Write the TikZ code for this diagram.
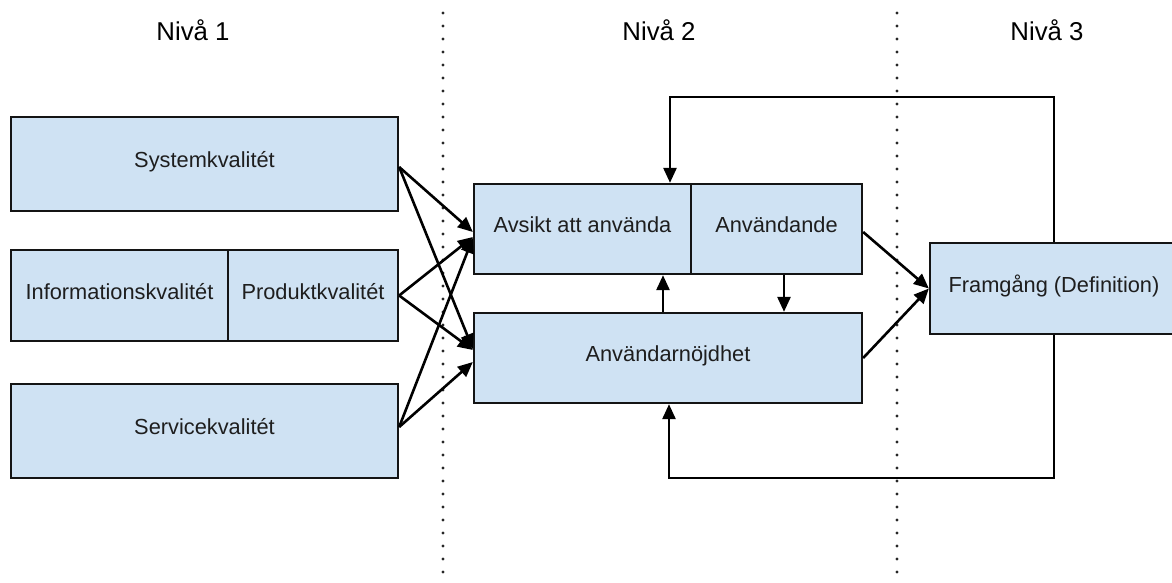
\documentclass[tikz,border=0pt]{standalone}
\usepackage{fontspec}
\setmainfont{Liberation Sans}
\usetikzlibrary{arrows.meta,calc}
\definecolor{boxfill}{HTML}{CFE2F3}
\definecolor{boxtext}{HTML}{1E1E1E}
\definecolor{edge}{HTML}{141414}
\begin{document}
\begin{tikzpicture}[x=1pt,y=-1pt,
  box/.style={draw=edge, line width=2.3pt, fill=boxfill, inner sep=0pt,
    font=\fontsize{21.8}{26}\selectfont, text=boxtext, text height=0.716em, text depth=0pt},
  arr/.style={draw=black, line width=2.6pt, -{Triangle[length=15pt,width=13pt]}},
  sep/.style={draw=black!85, line width=3.3pt, line cap=round, dash pattern=on 0pt off 13pt},
  title/.style={font=\fontsize{25.8}{30}\selectfont, anchor=base, text=black}]
\useasboundingbox (0,0) rectangle (1172,582);
\clip (0,0) rectangle (1172,582);
% separators
\coordinate (s1t) at (443,13);
\coordinate (s1b) at (443,582);
\coordinate (s2t) at (897,13);
\coordinate (s2b) at (897,582);
\draw[sep] (s1t) -- (s1b);
\draw[sep] (s2t) -- (s2b);
% titles
\node[title] (n1) at (193,40) {Nivå 1};
\node[title] (n2) at (659,40) {Nivå 2};
\node[title] (n3) at (1047,40) {Nivå 3};
% boxes
\node[box, minimum width=387pt, minimum height=94pt] (sys) at (204.5,164) {Systemkvalitét};
\node[box, minimum width=217pt, minimum height=91pt] (info) at (119.5,295.5) {Informationskvalitét};
\node[box, minimum width=170pt, minimum height=91pt] (prod) at (313,295.5) {Produktkvalitét};
\node[box, minimum width=387pt, minimum height=94pt] (serv) at (204.5,431) {Servicekvalitét};
\node[box, minimum width=217pt, minimum height=90pt] (avs) at (582.5,229) {Avsikt att använda};
\node[box, minimum width=171pt, minimum height=90pt] (anv) at (776.5,229) {Användande};
\node[box, minimum width=388pt, minimum height=90pt] (nojd) at (668,358) {Användarnöjdhet};
\node[box, minimum width=248pt, minimum height=91pt] (fram) at (1054,288.5) {Framgång (Definition)};
% level 1 -> level 2
\draw[arr] ($(sys.east)+(0,3)$) -- ($(avs.west)+(0,3)$);
\draw[arr] ($(sys.east)+(0,3)$) -- ($(nojd.west)+(0,-9)$);
\draw[arr] (prod.east) -- ($(avs.west)+(0,8)$);
\draw[arr] (prod.east) -- ($(nojd.west)+(0,-8)$);
\draw[arr] ($(serv.east)+(0,-4)$) -- ($(avs.west)+(0,9)$);
\draw[arr] ($(serv.east)+(0,-4)$) -- ($(nojd.west)+(0,4)$);
% within level 2
\coordinate (u) at (663,0);
\coordinate (d) at (784,0);
\draw[arr] (nojd.north -| u) -- (avs.south -| u);
\draw[arr] (anv.south -| d) -- (nojd.north -| d);
% level 2 -> level 3
\draw[arr] ($(anv.east)+(0,3)$) -- (fram.west);
\draw[arr] (nojd.east) -- (fram.west);
% feedback loops
\coordinate (tl) at (670,97);
\coordinate (bl) at (669,478);
\draw[arr] (fram.north) |- (tl) -- (tl |- avs.north);
\draw[arr] (fram.south) |- (bl) -- (bl |- nojd.south);
\end{tikzpicture}
\end{document}
